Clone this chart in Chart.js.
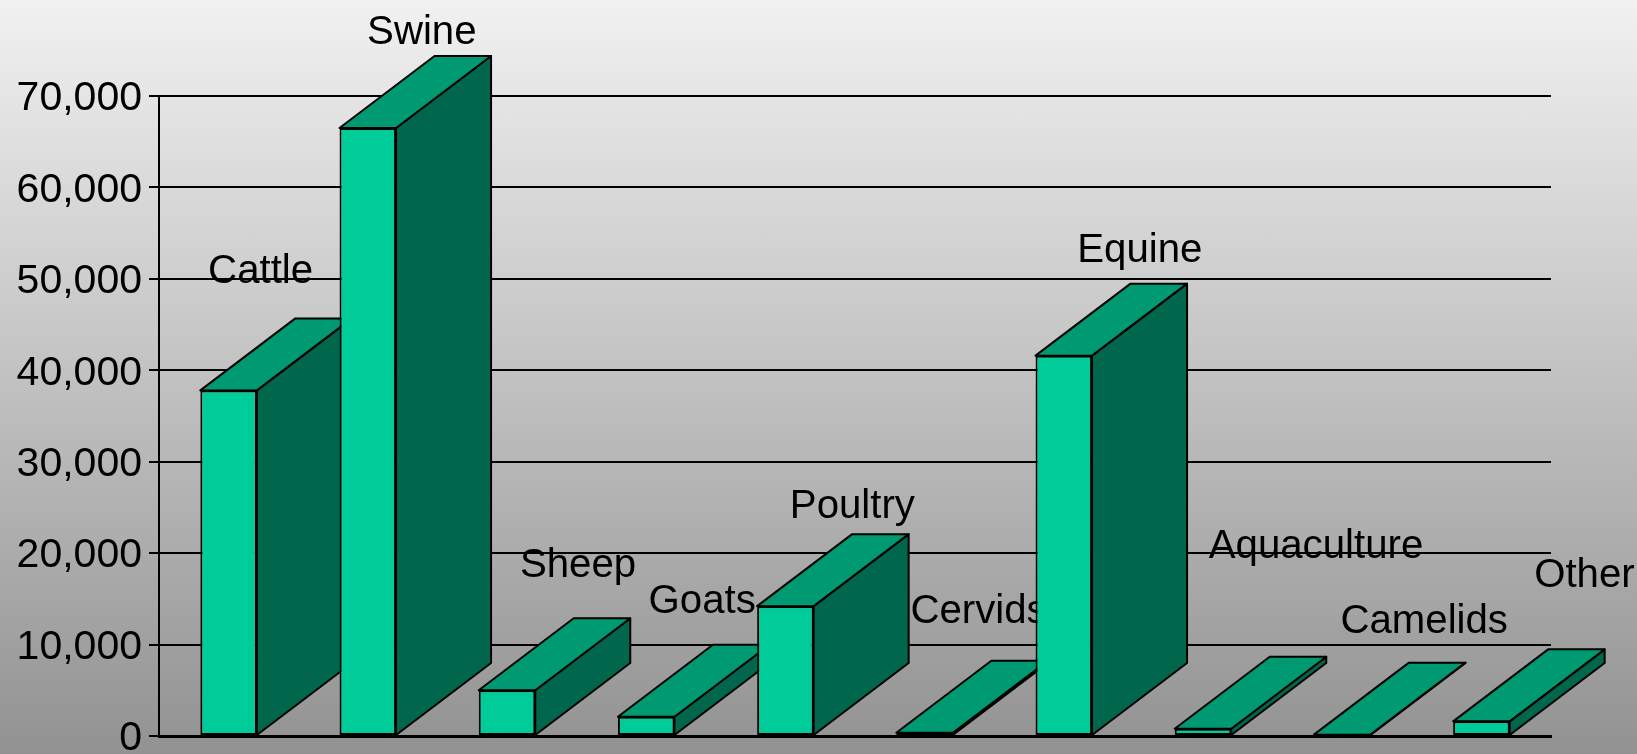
<!DOCTYPE html>
<html>
<head>
<meta charset="utf-8">
<script src="https://cdn.jsdelivr.net/npm/chart.js@4"></script>
<style>
    html, body { margin: 0; padding: 0; width: 1637px; height: 754px; overflow: hidden; }
    body { background: linear-gradient(to bottom, #f1f1f1 0%, #929292 100%); }
    canvas { display: block; }
</style>
</head>
<body>
<canvas id="animalChart" width="1637" height="754"></canvas>
<script>
// Datos
var categories = ['Cattle', 'Swine', 'Sheep', 'Goats', 'Poultry', 'Cervids', 'Equine', 'Aquaculture', 'Camelids', 'Other'];
var values = [37800, 66500, 5000, 2100, 14200, 350, 41600, 800, 150, 1600];
var tickValues = [0, 10000, 20000, 30000, 40000, 50000, 60000, 70000];

// Etiquetas colocadas a mano respecto a cada barra
var labelShiftX = [32, 54, 71, 56, 67, 54, 76, 113, 82, 103];
var labelShiftY = [-107, -84, -113, -104, -88, -110, -94, -171, -102, -134];

var depthX = 95;
var depthY = 72;
var chartFont = '"Liberation Sans", Arial, sans-serif';

function face(ctx, points, color) {
    ctx.beginPath();
    ctx.moveTo(points[0][0], points[0][1]);
    for (var i = 1; i < points.length; i++) {
        ctx.lineTo(points[i][0], points[i][1]);
    }
    ctx.closePath();
    ctx.fillStyle = color;
    ctx.fill();
    ctx.stroke();
}

// Caras laterales y superiores, y los nombres; el frente lo dibuja la barra
var depthPlugin = {
    id: 'depthFaces',
    beforeDatasetsDraw: function(chart) {
        var ctx = chart.ctx;
        var bars = chart.getDatasetMeta(0).data;
        ctx.save();
        ctx.lineWidth = 2;
        ctx.lineJoin = 'round';
        ctx.strokeStyle = '#000000';
        bars.forEach(function(bar, i) {
            var half = bar.width / 2;
            var left = bar.x - half;
            var right = bar.x + half;
            face(ctx, [[right, bar.y], [right + depthX, bar.y - depthY], [right + depthX, bar.base - depthY], [right, bar.base]], '#00664c');
            face(ctx, [[left, bar.y], [left + depthX, bar.y - depthY], [right + depthX, bar.y - depthY], [right, bar.y]], '#009a72');
            ctx.fillStyle = '#000000';
            ctx.font = '40.2px ' + chartFont;
            ctx.textAlign = 'center';
            ctx.textBaseline = 'alphabetic';
            ctx.fillText(categories[i], bar.x + labelShiftX[i], bar.y + labelShiftY[i]);
        });
        ctx.restore();
    }
};

document.addEventListener('DOMContentLoaded', function() {
    var ctx = document.getElementById('animalChart').getContext('2d');
    new Chart(ctx, {
        type: 'bar',
        data: {
            labels: categories,
            datasets: [{
                data: values,
                backgroundColor: '#00cc99',
                borderColor: '#000000',
                borderWidth: 2,
                borderSkipped: false,
                categoryPercentage: 1,
                barPercentage: 0.406
            }]
        },
        options: {
            responsive: false,
            animation: false,
            layout: {
                padding: { top: 96, right: 86, bottom: 18, left: 0 }
            },
            plugins: {
                legend: { display: false },
                tooltip: { enabled: false }
            },
            scales: {
                x: {
                    afterFit: function(scale) {
                        scale.height = 0;
                    },
                    grid: { display: false },
                    border: { color: '#000000', width: 3 },
                    ticks: { display: false }
                },
                y: {
                    min: 0,
                    max: 70000,
                    afterFit: function(scale) {
                        scale.width = 159;
                        scale.paddingTop = 0;
                        scale.paddingBottom = 0;
                    },
                    afterBuildTicks: function(scale) {
                        scale.ticks = tickValues.map(function(v) {
                            return { value: v };
                        });
                    },
                    grid: {
                        color: '#000000',
                        lineWidth: 2,
                        tickLength: 10,
                        tickColor: '#000000'
                    },
                    border: { color: '#000000', width: 2 },
                    ticks: {
                        color: '#000000',
                        // interlineado pequeno: la linea vacia baja el numero unos px
                        font: { family: chartFont, size: 41, lineHeight: 0.146 },
                        padding: 7,
                        autoSkip: false,
                        callback: function(value) {
                            return ['', value.toLocaleString('en-US')];
                        }
                    }
                }
            }
        },
        plugins: [depthPlugin]
    });
});
</script>
</body>
</html>
